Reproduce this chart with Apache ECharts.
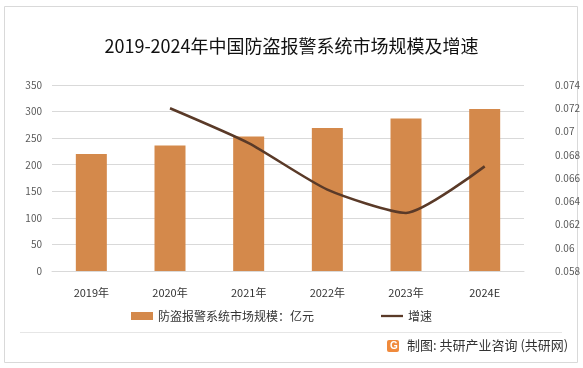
<!DOCTYPE html>
<html><head><meta charset="utf-8">
<script src="https://cdn.jsdelivr.net/npm/echarts@6/dist/echarts.min.js"></script>
<style>html,body{margin:0;padding:0;background:#fff}#c{width:583px;height:368px}</style>
</head><body><div id="c"></div>
<script>
const categories = ['2019年','2020年','2021年','2022年','2023年','2024E'];
const marketSize = [220, 236, 253, 269, 287, 305];
const growth = [null, 0.072, 0.069, 0.065, 0.063, 0.067];
const leftTicks = {min: 0, max: 350, interval: 50};
const rightTicks = {min: 0.058, max: 0.074, interval: 0.002};

const font = '"Noto Sans CJK SC", "Noto Sans", sans-serif';
const chart = echarts.init(document.getElementById('c'));
chart.setOption({
  animation: false,
  textStyle: {fontFamily: font},
  title: {text: '2019-2024年中国防盗报警系统市场规模及增速', left: 'center', top: 32,
    textStyle: {fontSize: 18, fontWeight: 'normal', color: '#111', fontFamily: font}},
  grid: {left: 52, right: 58, top: 85, bottom: 97},
  legend: {top: 305, left: 126, itemGap: 67, itemWidth: 22, itemHeight: 8,
    textStyle: {fontSize: 12, color: '#333', fontFamily: font},
    data: [{name: '防盗报警系统市场规模：亿元', icon: 'rect'}, {name: '增速', icon: 'path://M0,0H24V2.5H0Z'}]},
  xAxis: {type: 'category', data: categories,
    axisLine: {lineStyle: {color: '#d9d9d9'}}, axisTick: {show: false},
    axisLabel: {color: '#333', fontSize: 11, margin: 16,
      formatter: v => v === '2024E' ? '{e|' + v + '}' : v,
      rich: {e: {fontSize: 11, color: '#333', padding: [0, 0, 8, 0]}}}},
  yAxis: [
    {type: 'value', min: leftTicks.min, max: leftTicks.max, interval: leftTicks.interval,
     axisLabel: {color: '#595959', fontSize: 10, margin: 10},
     axisLine: {show: false}, axisTick: {show: false},
     splitLine: {lineStyle: {color: '#d9d9d9'}}},
    {type: 'value', min: rightTicks.min, max: rightTicks.max, interval: rightTicks.interval,
     axisLabel: {color: '#595959', fontSize: 10, margin: 31, formatter: v => String(+v.toFixed(3))},
     axisLine: {show: false}, axisTick: {show: false}, splitLine: {show: false}}
  ],
  series: [
    {name: '防盗报警系统市场规模：亿元', type: 'bar', data: marketSize, barWidth: 31,
     itemStyle: {color: '#D4894B'}},
    {name: '增速', type: 'line', yAxisIndex: 1, data: growth, smooth: 0.2, showSymbol: false,
     symbol: 'none', lineStyle: {color: '#5A3A28', width: 2.5}, itemStyle: {color: '#5A3A28'}}
  ],
  graphic: [
    {type: 'rect', shape: {x: 4.5, y: 6.5, width: 573, height: 356}, style: {fill: 'none', stroke: '#d9d9d9', lineWidth: 1}, silent: true, z: -1},
    {type: 'line', shape: {x1: 20, y1: 332.5, x2: 562, y2: 332.5}, style: {stroke: '#e6e6e6', lineWidth: 1}},
    {type: 'rect', shape: {x: 387, y: 340, width: 12, height: 12, r: 2}, style: {fill: '#F08A3C'}},
    {type: 'text', style: {x: 390, y: 341, text: 'G', fill: '#fff', font: 'bold 10px sans-serif'}},
    {type: 'text', style: {x: 407, y: 339, text: '制图: 共研产业咨询 (共研网)', fill: '#333', font: '13px ' + font}}
  ]
});
</script></body></html>
